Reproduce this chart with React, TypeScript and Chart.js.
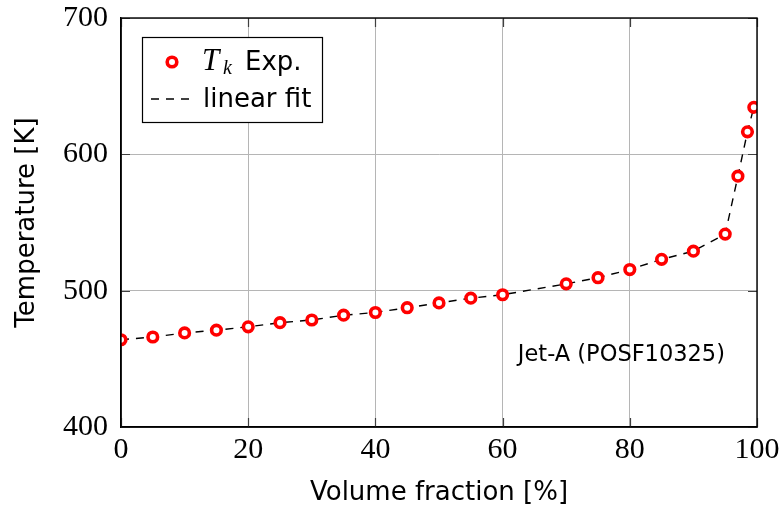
import React, { useEffect, useRef } from "react";
import { Chart, registerables } from "chart.js";

Chart.register(...registerables);

// ---- data ----
const volumeFraction = [0, 5, 10, 15, 20, 25, 30, 35, 40, 45, 50, 55, 60, 70, 75, 80, 85, 90, 95, 97, 98.5, 99.5];
const temperatureExp = [464, 466, 469, 471, 473.5, 476.5, 478.5, 482, 484, 487.5, 491, 494.5, 497, 505, 509.5, 515.5, 523, 529, 541.5, 584, 616.5, 634.5];
const temperatureFit = [464, 466, 469, 471, 473.5, 476.5, 478.5, 482, 484, 487.5, 491, 494.5, 497, 505, 509.5, 515.5, 523, 529, 541.5, 584, 616.5, 634.5];
const xTickValues = [0, 20, 40, 60, 80, 100];
const yTickValues = [400, 500, 600, 700];
const xTitle = "Volume fraction [%]";
const yTitle = "Temperature [K]";
const legendExpSymbol = "T";
const legendExpSub = "k";
const legendExpText = "Exp.";
const legendFitText = "linear fit";
const annotationText = "Jet-A (POSF10325)";
const annotationAt = { x: 62.4, y: 448.5 };

const SANS = '"DejaVu Sans", sans-serif';
const SERIF = '"Liberation Serif", serif';
const RED = "#ff0000";

const framePlugin = {
  id: "frameAndLegend",
  afterDraw(chart: any) {
    const { ctx, chartArea: a, scales } = chart;
    const xs = scales.x;
    const ys = scales.y;
    ctx.save();
    // inward tick marks
    ctx.strokeStyle = "#404040";
    ctx.lineWidth = 1.2;
    const L = 9;
    ctx.beginPath();
    xTickValues.forEach((v) => {
      const px = Math.round(xs.getPixelForValue(v)) + 0.5;
      ctx.moveTo(px, a.bottom);
      ctx.lineTo(px, a.bottom - L);
      ctx.moveTo(px, a.top);
      ctx.lineTo(px, a.top + L);
    });
    yTickValues.forEach((v) => {
      const py = Math.round(ys.getPixelForValue(v)) + 0.5;
      ctx.moveTo(a.left, py);
      ctx.lineTo(a.left + L, py);
      ctx.moveTo(a.right, py);
      ctx.lineTo(a.right - L, py);
    });
    ctx.stroke();
    // frame
    ctx.strokeStyle = "#000";
    ctx.lineWidth = 1.4;
    ctx.strokeRect(a.left, a.top, a.right - a.left, a.bottom - a.top);

    // annotation
    ctx.fillStyle = "#000";
    ctx.font = `22.5px ${SANS}`;
    ctx.textAlign = "left";
    ctx.textBaseline = "alphabetic";
    ctx.fillText(annotationText, xs.getPixelForValue(annotationAt.x), ys.getPixelForValue(annotationAt.y));

    // legend box
    const bx = a.left + 21;
    const by = a.top + 19;
    ctx.fillStyle = "#fff";
    ctx.fillRect(bx, by, 181, 86);
    ctx.strokeStyle = "#000";
    ctx.lineWidth = 1.2;
    ctx.strokeRect(bx + 0.5, by + 0.5, 180, 85);

    // entry 1: marker
    ctx.beginPath();
    ctx.arc(bx + 30, by + 25, 4.8, 0, Math.PI * 2);
    ctx.fillStyle = "#fff";
    ctx.fill();
    ctx.strokeStyle = RED;
    ctx.lineWidth = 3.6;
    ctx.stroke();
    ctx.fillStyle = "#000";
    ctx.font = `italic 31px ${SERIF}`;
    ctx.fillText(legendExpSymbol, bx + 60, by + 33);
    ctx.font = `italic 20px ${SERIF}`;
    ctx.fillText(legendExpSub, bx + 81, by + 37);
    ctx.font = `26px ${SANS}`;
    ctx.fillText(legendExpText, bx + 103, by + 33);

    // entry 2: dashed line
    ctx.beginPath();
    ctx.setLineDash([8, 7]);
    ctx.strokeStyle = "#000";
    ctx.lineWidth = 1.4;
    ctx.moveTo(bx + 9, by + 62);
    ctx.lineTo(bx + 50, by + 62);
    ctx.stroke();
    ctx.setLineDash([]);
    ctx.font = `26px ${SANS}`;
    ctx.fillText(legendFitText, bx + 61, by + 70);
    ctx.restore();
  },
};

function zeroPad(s: any) {
  s.paddingTop = 0;
  s.paddingBottom = 0;
  s.paddingLeft = 0;
  s.paddingRight = 0;
}

export default function App() {
  const ref = useRef<HTMLCanvasElement | null>(null);
  useEffect(() => {
    if (!ref.current) return;
    const chart = new Chart(ref.current, {
      type: "scatter",
      data: {
        datasets: [
          {
            label: "Exp.",
            data: volumeFraction.map((x, i) => ({ x, y: temperatureExp[i] })),
            showLine: false,
            pointRadius: 4.8,
            pointBorderWidth: 3.6,
            pointBackgroundColor: "#fff",
            pointBorderColor: RED,
            order: 0,
          },
          {
            label: "linear fit",
            data: volumeFraction.map((x, i) => ({ x, y: temperatureFit[i] })),
            showLine: true,
            borderColor: "#000",
            borderWidth: 1.4,
            borderDash: [8, 7],
            pointRadius: 0,
            fill: false,
            order: 1,
          },
        ],
      },
      options: {
        animation: false,
        responsive: false,
        layout: { padding: { left: 0, top: 18, right: 24, bottom: 0 } },
        plugins: { legend: { display: false }, tooltip: { enabled: false } },
        scales: {
          x: {
            type: "linear",
            min: 0,
            max: 100,
            afterBuildTicks: (s: any) => {
              s.ticks = xTickValues.map((v) => ({ value: v }));
            },
            afterFit: (s: any) => {
              s.height = 85;
              zeroPad(s);
            },
            grid: { color: "#b5b5b5", lineWidth: 1, drawTicks: false },
            border: { color: "#000", width: 1.4 },
            ticks: { color: "#000", font: { family: SERIF, size: 30 }, padding: 5, maxRotation: 0 },
            title: { display: true, text: xTitle, color: "#000", font: { family: SANS, size: 26 }, padding: { top: 0, bottom: 3 } },
          },
          y: {
            type: "linear",
            min: 400,
            max: 700,
            afterBuildTicks: (s: any) => {
              s.ticks = yTickValues.map((v) => ({ value: v }));
            },
            afterFit: (s: any) => {
              s.width = 121;
              zeroPad(s);
            },
            grid: { color: "#b5b5b5", lineWidth: 1, drawTicks: false },
            border: { color: "#000", width: 1.4 },
            ticks: { color: "#000", font: { family: SERIF, size: 30 }, padding: 13 },
            title: { display: true, text: yTitle, color: "#000", font: { family: SANS, size: 26 }, padding: { top: 12, bottom: 0 } },
          },
        },
      },
      plugins: [framePlugin],
    } as any);
    return () => chart.destroy();
  }, []);
  return (
    <div style={{ position: "fixed", left: 0, top: 0, width: 781, height: 512, background: "#fff" }}>
      <canvas ref={ref} width={781} height={512} style={{ display: "block" }} />
    </div>
  );
}
